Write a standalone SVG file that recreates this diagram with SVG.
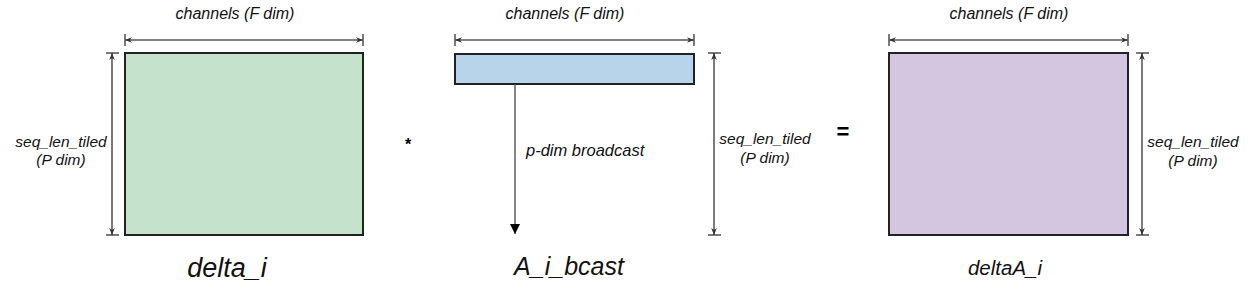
<svg xmlns="http://www.w3.org/2000/svg" width="1256" height="300" viewBox="0 0 1256 300">
<defs>
<style>
.t{font-family:"Liberation Sans",Arial,sans-serif;font-style:italic;fill:#111}
.s{font-size:15.5px}
.mat{stroke:#222;stroke-width:2}
.dim{stroke:#555;stroke-width:1.3;fill:none}
.vdim{stroke:#222;stroke-width:1.2;fill:none}
.tick{stroke:#222;stroke-width:1.2}
</style>
<marker id="ah" viewBox="0 0 10 10" refX="10" refY="5" markerWidth="7" markerHeight="7" markerUnits="userSpaceOnUse" orient="auto-start-reverse">
<path d="M0,1 L10,5 L0,9 L3,5 Z" fill="#333"/>
</marker>
<marker id="arr" viewBox="0 0 10 10" refX="10" refY="5" markerWidth="12" markerHeight="10" markerUnits="userSpaceOnUse" orient="auto">
<path d="M0,0 L10,5 L0,10 Z" fill="#000"/>
</marker>
</defs>

<g id="delta_i">
<rect class="mat" x="125" y="53" width="238" height="182" fill="#c5e3cc"/>
<text class="t" style="font-size:27px" x="227" y="277" text-anchor="middle">delta_i</text>
</g>
<g id="A_i_bcast">
<rect class="mat" x="455" y="54" width="239" height="30" fill="#b7d4ea"/>
<text class="t" style="font-size:25px" x="569" y="275" text-anchor="middle">A_i_bcast</text>
</g>
<g id="deltaA_i">
<rect class="mat" x="889" y="53" width="239" height="182" fill="#d4c5e0"/>
<text class="t" style="font-size:20.5px" x="1005" y="275" text-anchor="middle">deltaA_i</text>
</g>

<g id="operators">
<text x="408" y="150" text-anchor="middle" style="font-family:'Liberation Sans',Arial,sans-serif;font-size:16px;font-weight:bold">*</text>
<text x="843" y="139" text-anchor="middle" style="font-family:'Liberation Sans',Arial,sans-serif;font-size:22px;font-weight:bold">=</text>
</g>

<g id="connectors">
<line class="tick" x1="125" y1="34" x2="125" y2="46"/>
<line class="tick" x1="363" y1="34" x2="363" y2="46"/>
<line class="dim" x1="125" y1="40" x2="363" y2="40" marker-start="url(#ah)" marker-end="url(#ah)"/>
<line class="tick" x1="106" y1="53" x2="119" y2="53"/>
<line class="tick" x1="106" y1="235" x2="119" y2="235"/>
<line class="vdim" x1="112" y1="53" x2="112" y2="235" marker-start="url(#ah)" marker-end="url(#ah)"/>
<line class="tick" x1="455" y1="34" x2="455" y2="46"/>
<line class="tick" x1="694" y1="34" x2="694" y2="46"/>
<line class="dim" x1="455" y1="40" x2="694" y2="40" marker-start="url(#ah)" marker-end="url(#ah)"/>
<line class="tick" x1="708" y1="53" x2="721" y2="53"/>
<line class="tick" x1="708" y1="235" x2="721" y2="235"/>
<line class="vdim" x1="714" y1="53" x2="714" y2="235" marker-start="url(#ah)" marker-end="url(#ah)"/>
<line x1="515" y1="84" x2="515" y2="234" stroke="#444" stroke-width="1.3" marker-end="url(#arr)"/>
<line class="tick" x1="889" y1="34" x2="889" y2="46"/>
<line class="tick" x1="1128" y1="34" x2="1128" y2="46"/>
<line class="dim" x1="889" y1="40" x2="1128" y2="40" marker-start="url(#ah)" marker-end="url(#ah)"/>
<line class="tick" x1="1136" y1="53" x2="1149" y2="53"/>
<line class="tick" x1="1136" y1="235" x2="1149" y2="235"/>
<line class="vdim" x1="1142" y1="53" x2="1142" y2="235" marker-start="url(#ah)" marker-end="url(#ah)"/>
</g>

<g id="labels">
<text class="t" style="font-size:16px" x="235" y="19" text-anchor="middle">channels (F dim)</text>
<text class="t" style="font-size:16px" x="565" y="19" text-anchor="middle">channels (F dim)</text>
<text class="t" style="font-size:16px" x="1009" y="19" text-anchor="middle">channels (F dim)</text>
<text class="t s" x="61" y="147" text-anchor="middle">seq_len_tiled</text>
<text class="t s" x="61" y="165" text-anchor="middle">(P dim)</text>
<text class="t s" x="765" y="144" text-anchor="middle">seq_len_tiled</text>
<text class="t s" x="765" y="163" text-anchor="middle">(P dim)</text>
<text class="t s" x="1193" y="147" text-anchor="middle">seq_len_tiled</text>
<text class="t s" x="1193" y="166" text-anchor="middle">(P dim)</text>
<text class="t" style="font-size:16.5px" x="526" y="156">p-dim broadcast</text>
</g>
</svg>
